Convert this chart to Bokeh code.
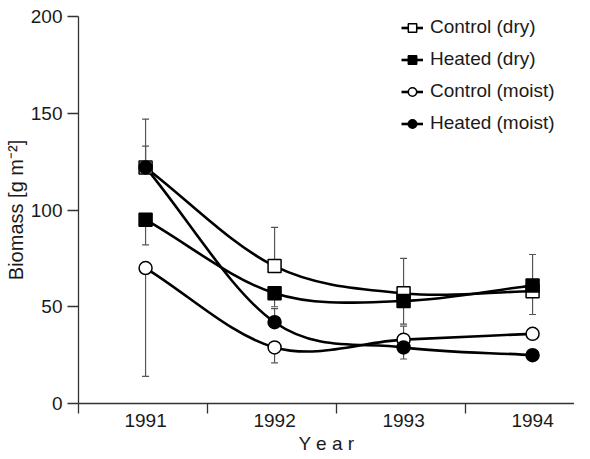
from bokeh.plotting import figure
from bokeh.models import FixedTicker, Legend, LegendItem, Range1d
from bokeh.embed import file_html
from bokeh.resources import INLINE

# ---- data ----
years = [1991, 1992, 1993, 1994]
control_dry = [122, 71, 57, 58]
heated_dry = [95, 57, 53, 61]
control_moist = [70, 29, 33, 36]
heated_moist = [122, 42, 29, 25]

# end value of the (one-sided) error bar for each point, None = none drawn
control_dry_err = [147, 91, 75, 46]
heated_dry_err = [82, 50, 41, 77]
control_moist_err = [14, 21, 40, None]
heated_moist_err = [133, 49, 23, None]

y_ticks = [0, 50, 100, 150, 200]
x_ticks = years
x_minor = [y - 0.52 for y in years]
x_label = "Y e a r"
y_label = "Biomass [g m\u207b\u00b2]"

FONT = "Liberation Sans"
INK = "#1a1a1a"

FRAME_H = 387

p = figure(width=574, height=456, output_backend="svg", toolbar_location=None,
           x_range=Range1d(1990.48, 1994.325), y_range=Range1d(0, 200),
           min_border_left=78, min_border_right=0, min_border_top=16, min_border_bottom=53)
p.outline_line_color = None
p.grid.visible = False
p.background_fill_color = "white"

for ax in (p.xaxis[0], p.yaxis[0]):
    ax.axis_line_color = "#333333"
    ax.axis_line_width = 1.3
    ax.major_tick_line_color = "#333333"
    ax.minor_tick_line_color = "#333333"
    ax.major_tick_line_width = 1.3
    ax.minor_tick_line_width = 1.3
    ax.major_tick_in = 0
    ax.minor_tick_in = 0
    ax.major_label_text_font = FONT
    ax.major_label_text_font_size = "19px"
    ax.major_label_text_color = INK
    ax.axis_label_text_font = FONT
    ax.axis_label_text_font_size = "19px"
    ax.axis_label_text_font_style = "normal"
    ax.axis_label_text_color = INK

p.yaxis[0].ticker = FixedTicker(ticks=y_ticks)
p.yaxis[0].major_tick_out = 11
p.yaxis[0].minor_tick_out = 0
p.yaxis[0].major_label_standoff = 5
p.yaxis[0].axis_label = y_label
p.yaxis[0].axis_label_text_font_size = "20px"
p.yaxis[0].axis_label_standoff = 1

p.xaxis[0].ticker = FixedTicker(ticks=x_ticks, minor_ticks=x_minor)
p.xaxis[0].major_tick_out = 0
p.xaxis[0].minor_tick_out = 10
p.xaxis[0].major_label_standoff = 0
p.xaxis[0].axis_label = x_label
p.xaxis[0].axis_label_standoff = 3


def bezier_parts(xs, ys):
    """Catmull-Rom style cubic segments through the data points."""
    n = len(xs)
    tx, ty = [], []
    for i in range(n):
        a = max(i - 1, 0)
        b = min(i + 1, n - 1)
        f = 0.5 if (i > 0 and i < n - 1) else 1.0
        tx.append((xs[b] - xs[a]) * f)
        ty.append((ys[b] - ys[a]) * f)
    d = dict(x0=[], y0=[], x1=[], y1=[], cx0=[], cy0=[], cx1=[], cy1=[])
    for i in range(n - 1):
        d["x0"].append(xs[i]); d["y0"].append(ys[i])
        d["x1"].append(xs[i + 1]); d["y1"].append(ys[i + 1])
        d["cx0"].append(xs[i] + tx[i] / 3); d["cy0"].append(ys[i] + ty[i] / 3)
        d["cx1"].append(xs[i + 1] - tx[i + 1] / 3); d["cy1"].append(ys[i + 1] - ty[i + 1] / 3)
    return d


series = [
    ("Control (dry)", control_dry, control_dry_err, "square", "white"),
    ("Heated (dry)", heated_dry, heated_dry_err, "square", "black"),
    ("Control (moist)", control_moist, control_moist_err, "circle", "white"),
    ("Heated (moist)", heated_moist, heated_moist_err, "circle", "black"),
]

# error bars first (behind everything)
for name, vals, errs, marker, fill in series:
    ex = [x for x, e in zip(years, errs) if e is not None]
    ey0 = [v for v, e in zip(vals, errs) if e is not None]
    ey1 = [e for e in errs if e is not None]
    p.segment(x0=ex, y0=ey0, x1=ex, y1=ey1, line_color="#555555", line_width=1.2)
    p.scatter(ex, ey1, marker="dash", size=7, line_color="#555555", line_width=1.2)

curves = []
for name, vals, errs, marker, fill in series:
    d = bezier_parts(years, vals)
    r = p.bezier(line_color="black", line_width=2.6, **d)
    curves.append(r)

items = []
for (name, vals, errs, marker, fill), cr in zip(series, curves):
    m = p.scatter(years, vals, marker=marker, size=13, fill_color=fill,
                  line_color="black", line_width=1.5)
    items.append(LegendItem(label=name, renderers=[cr, m]))

LEG_H = 4 * 21 + 3 * 10
legend = Legend(items=items, location=(323, FRAME_H - LEG_H - 4), padding=0, margin=0,
                border_line_color=None, background_fill_alpha=0,
                label_text_font=FONT, label_text_font_size="19px",
                label_text_color=INK, glyph_width=22, glyph_height=21,
                label_height=21, spacing=10, label_standoff=7)
p.add_layout(legend)

open("out.html", "w").write(file_html(p, INLINE))
